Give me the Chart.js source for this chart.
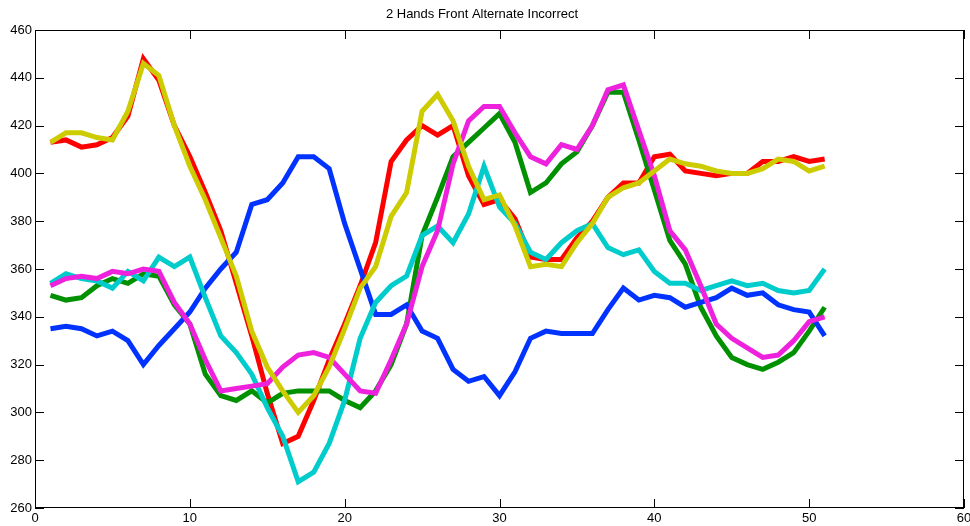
<!DOCTYPE html>
<html>
<head>
<meta charset="utf-8">
<title>2 Hands Front Alternate Incorrect</title>
<script src="https://cdn.jsdelivr.net/npm/chart.js@4.4.1/dist/chart.umd.min.js"></script>
<style>
  html, body { margin: 0; padding: 0; background: #fff; }
  #wrap { width: 970px; height: 526px; }
</style>
</head>
<body>
<div id="wrap"><canvas id="grafico"></canvas></div>
<script>
const titulo = '2 Hands Front Alternate Incorrect';

const muestras = [1, 2, 3, 4, 5, 6, 7, 8, 9, 10, 11, 12, 13, 14, 15, 16, 17, 18, 19, 20,
  21, 22, 23, 24, 25, 26, 27, 28, 29, 30, 31, 32, 33, 34, 35, 36, 37, 38, 39, 40,
  41, 42, 43, 44, 45, 46, 47, 48, 49, 50, 51];

const ticksX = [0, 10, 20, 30, 40, 50, 60];
const ticksY = [260, 280, 300, 320, 340, 360, 380, 400, 420, 440, 460];

const rojo = [413, 414, 411, 412, 415, 424, 448, 439, 420, 407, 392, 376, 354, 332, 308, 287, 290, 305, 322, 337,
  353, 371, 405, 414, 420, 416, 420, 399, 387, 389, 381, 365, 364, 364, 373, 380, 390, 396, 396, 407,
  408, 401, 400, 399, 400, 400, 405, 405, 407, 405, 406];

const verde = [349, 347, 348, 353, 356, 354, 358, 357, 345, 337, 316, 307, 305, 309, 304, 308, 309, 309, 309, 305,
  302, 309, 320, 337, 374, 390, 407, 413, 419, 425, 413, 392, 396, 404, 409, 420, 434, 434, 414, 393,
  372, 362, 344, 332, 323, 320, 318, 321, 325, 334, 344];

const azul = [335, 336, 335, 332, 334, 330, 320, 328, 335, 342, 352, 360, 367, 387, 389, 396, 407, 407, 402, 379,
  360, 341, 341, 345, 334, 331, 318, 313, 315, 307, 317, 331, 334, 333, 333, 333, 343, 352, 347, 349,
  348, 344, 346, 348, 352, 349, 350, 345, 343, 342, 332];

const cian = [354, 358, 356, 355, 352, 359, 355, 365, 361, 365, 348, 332, 325, 316, 302, 290, 271, 275, 287, 305,
  331, 346, 353, 357, 374, 378, 371, 383, 403, 386, 379, 367, 364, 371, 376, 379, 369, 366, 368, 359,
  354, 354, 351, 353, 355, 353, 354, 351, 350, 351, 360];

const magenta = [353, 356, 357, 356, 359, 358, 360, 359, 346, 337, 322, 309, 310, 311, 312, 319, 324, 325, 323, 316,
  309, 308, 322, 337, 361, 376, 404, 422, 428, 428, 417, 407, 404, 412, 410, 420, 435, 437, 418, 399,
  376, 368, 353, 337, 331, 327, 323, 324, 330, 338, 340];

const amarillo = [413, 417, 417, 415, 414, 426, 446, 441, 420, 403, 389, 373, 357, 334, 319, 309, 300, 307, 319, 335,
  352, 361, 382, 392, 426, 433, 422, 403, 389, 391, 378, 361, 362, 361, 371, 379, 390, 394, 396, 401,
  406, 404, 403, 401, 400, 400, 402, 406, 405, 401, 403];

const series = [
  { datos: rojo, color: '#ff0000' },
  { datos: verde, color: '#009000' },
  { datos: azul, color: '#0033ff' },
  { datos: cian, color: '#00cccc' },
  { datos: magenta, color: '#ee22dd' },
  { datos: amarillo, color: '#cccc00' }
];

// marco estilo MATLAB: caja negra y marcas hacia adentro
const marcoMatlab = {
  id: 'marcoMatlab',
  afterDraw(chart) {
    const { ctx, chartArea: a, scales: { x, y } } = chart;
    const largo = 9;
    ctx.save();
    ctx.strokeStyle = '#000';
    ctx.lineWidth = 1;
    ctx.strokeRect(a.left + 0.5, a.top + 0.5, a.right - a.left - 1, a.bottom - a.top - 1);
    ctx.beginPath();
    ticksX.forEach(v => {
      const px = Math.round(x.getPixelForValue(v)) + 0.5;
      ctx.moveTo(px, a.bottom); ctx.lineTo(px, a.bottom - largo);
      ctx.moveTo(px, a.top); ctx.lineTo(px, a.top + largo);
    });
    ticksY.forEach(v => {
      const py = Math.round(y.getPixelForValue(v)) + 0.5;
      ctx.moveTo(a.left, py); ctx.lineTo(a.left + largo, py);
      ctx.moveTo(a.right, py); ctx.lineTo(a.right - largo, py);
    });
    ctx.stroke();
    ctx.restore();
  }
};

const fuente = { family: '"Liberation Sans", Arial, sans-serif', size: 13 };

new Chart(document.getElementById('grafico'), {
  type: 'line',
  data: {
    datasets: series.map((s, i) => ({
      data: muestras.map((m, j) => ({ x: m, y: s.datos[j] })),
      borderColor: s.color,
      backgroundColor: s.color,
      borderWidth: 5,
      pointRadius: 0,
      tension: 0,
      fill: false,
      order: series.length - i
    }))
  },
  options: {
    responsive: true,
    maintainAspectRatio: false,
    animation: false,
    layout: { padding: { left: 0, right: 6, top: 0, bottom: 0 } },
    plugins: {
      legend: { display: false },
      tooltip: { enabled: false },
      title: {
        display: true,
        text: titulo,
        color: '#000',
        font: { ...fuente, weight: 'normal' },
        padding: { top: 7, bottom: 7.4 }
      }
    },
    scales: {
      x: {
        type: 'linear',
        min: 0,
        max: 60,
        afterBuildTicks: sc => { sc.ticks = ticksX.map(v => ({ value: v })); },
        afterFit: sc => { sc.height = 18; sc.paddingRight = 0; },
        grid: { display: false, drawTicks: false },
        border: { display: false },
        ticks: { color: '#000', font: fuente, padding: 3, maxRotation: 0 }
      },
      y: {
        type: 'linear',
        min: 260,
        max: 460,
        afterBuildTicks: sc => { sc.ticks = ticksY.map(v => ({ value: v })); },
        afterFit: sc => { sc.width = 35; },
        grid: { display: false, drawTicks: false },
        border: { display: false },
        ticks: { color: '#000', font: fuente, padding: 3 }
      }
    }
  },
  plugins: [marcoMatlab]
});
</script>
</body>
</html>
